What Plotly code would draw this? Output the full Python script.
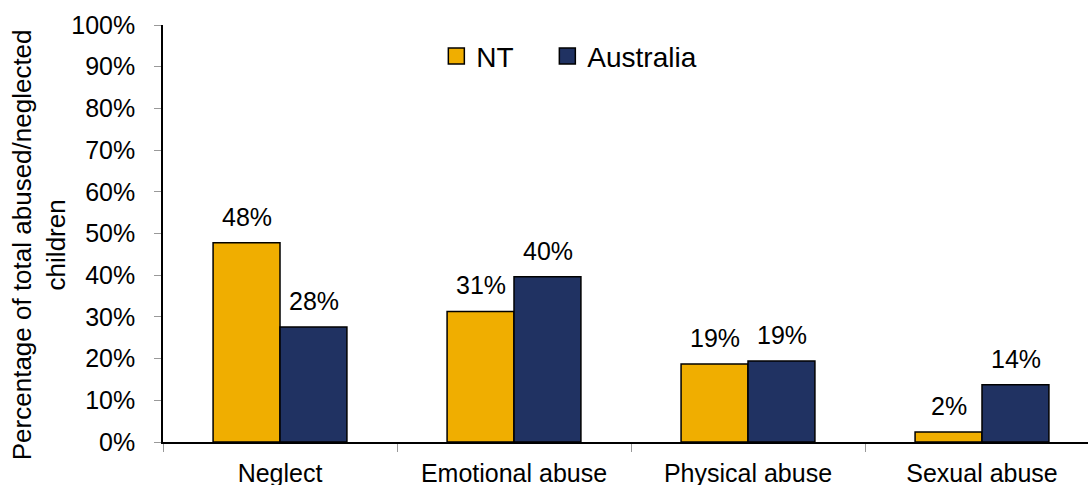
import plotly.graph_objects as go

categories = ["Neglect", "Emotional abuse", "Physical abuse", "Sexual abuse"]
nt_values = [47.8, 31.3, 18.7, 2.4]
aus_values = [27.6, 39.6, 19.4, 13.7]
nt_labels = ["48%", "31%", "19%", "2%"]
aus_labels = ["28%", "40%", "19%", "14%"]
tick_vals = list(range(0, 101, 10))
tick_text = [f"{v}%" for v in tick_vals]

NT_COLOR = "#F0AE00"
AUS_COLOR = "#203262"
FONT = "Liberation Sans, Arial, sans-serif"

fig = go.Figure()
fig.add_trace(go.Bar(name="NT", x=categories, y=nt_values, marker_color=NT_COLOR,
                     marker_line=dict(color="black", width=1.5), showlegend=False))
fig.add_trace(go.Bar(name="Australia", x=categories, y=aus_values, marker_color=AUS_COLOR,
                     marker_line=dict(color="black", width=1.5), showlegend=False))

# legend proxies with bigger square symbols, one legend box each
for name, col, leg in [("NT", NT_COLOR, "legend"), ("Australia", AUS_COLOR, "legend2")]:
    fig.add_trace(go.Scatter(name=name, x=[None], y=[None], mode="markers", legend=leg,
                             marker=dict(symbol="square", size=16, color=col,
                                         line=dict(color="black", width=1.5))))

# value labels above bars
for cat, v, lab in zip(categories, nt_values, nt_labels):
    fig.add_annotation(x=cat, y=v, text=lab, showarrow=False, xshift=-33.5,
                       yanchor="bottom", yshift=10, font=dict(size=25))
for cat, v, lab in zip(categories, aus_values, aus_labels):
    fig.add_annotation(x=cat, y=v, text=lab, showarrow=False, xshift=33.5,
                       yanchor="bottom", yshift=10, font=dict(size=25))

# y axis title
fig.add_annotation(text="Percentage of total abused/neglected<br>children",
                   xref="paper", yref="paper", x=-0.134, y=0.472,
                   xanchor="center", yanchor="middle", textangle=-90,
                   showarrow=False, font=dict(size=26))

leg_style = dict(orientation="h", y=0.925, yanchor="middle", xanchor="left",
                 font=dict(size=28), bgcolor="rgba(0,0,0,0)")
fig.update_layout(
    width=1088, height=485,
    margin=dict(l=163, r=0, t=25, b=43),
    paper_bgcolor="white", plot_bgcolor="white",
    font=dict(family=FONT, size=25, color="black"),
    barmode="group", bargap=0.428, bargroupgap=0,
    legend=dict(x=0.2955, **leg_style),
    legend2=dict(x=0.4155, **leg_style),
)
fig.update_xaxes(range=[-0.5, 3.453], showline=True, linecolor="black", linewidth=1.5,
                 ticks="outside", tickson="boundaries", ticklen=8, tickcolor="#999999",
                 showgrid=False, tickfont=dict(size=25), ticklabelstandoff=8,
                 automargin=False)
fig.update_yaxes(range=[0, 100], tickvals=tick_vals, ticktext=tick_text,
                 showline=True, linecolor="black", linewidth=1.5,
                 ticks="outside", ticklen=7, tickcolor="#999999", showgrid=False,
                 zeroline=False, tickfont=dict(size=25), ticklabelstandoff=14,
                 automargin=False)

fig.write_html("out.html", config={"displayModeBar": False},
               post_script="document.body.style.margin='0';")
